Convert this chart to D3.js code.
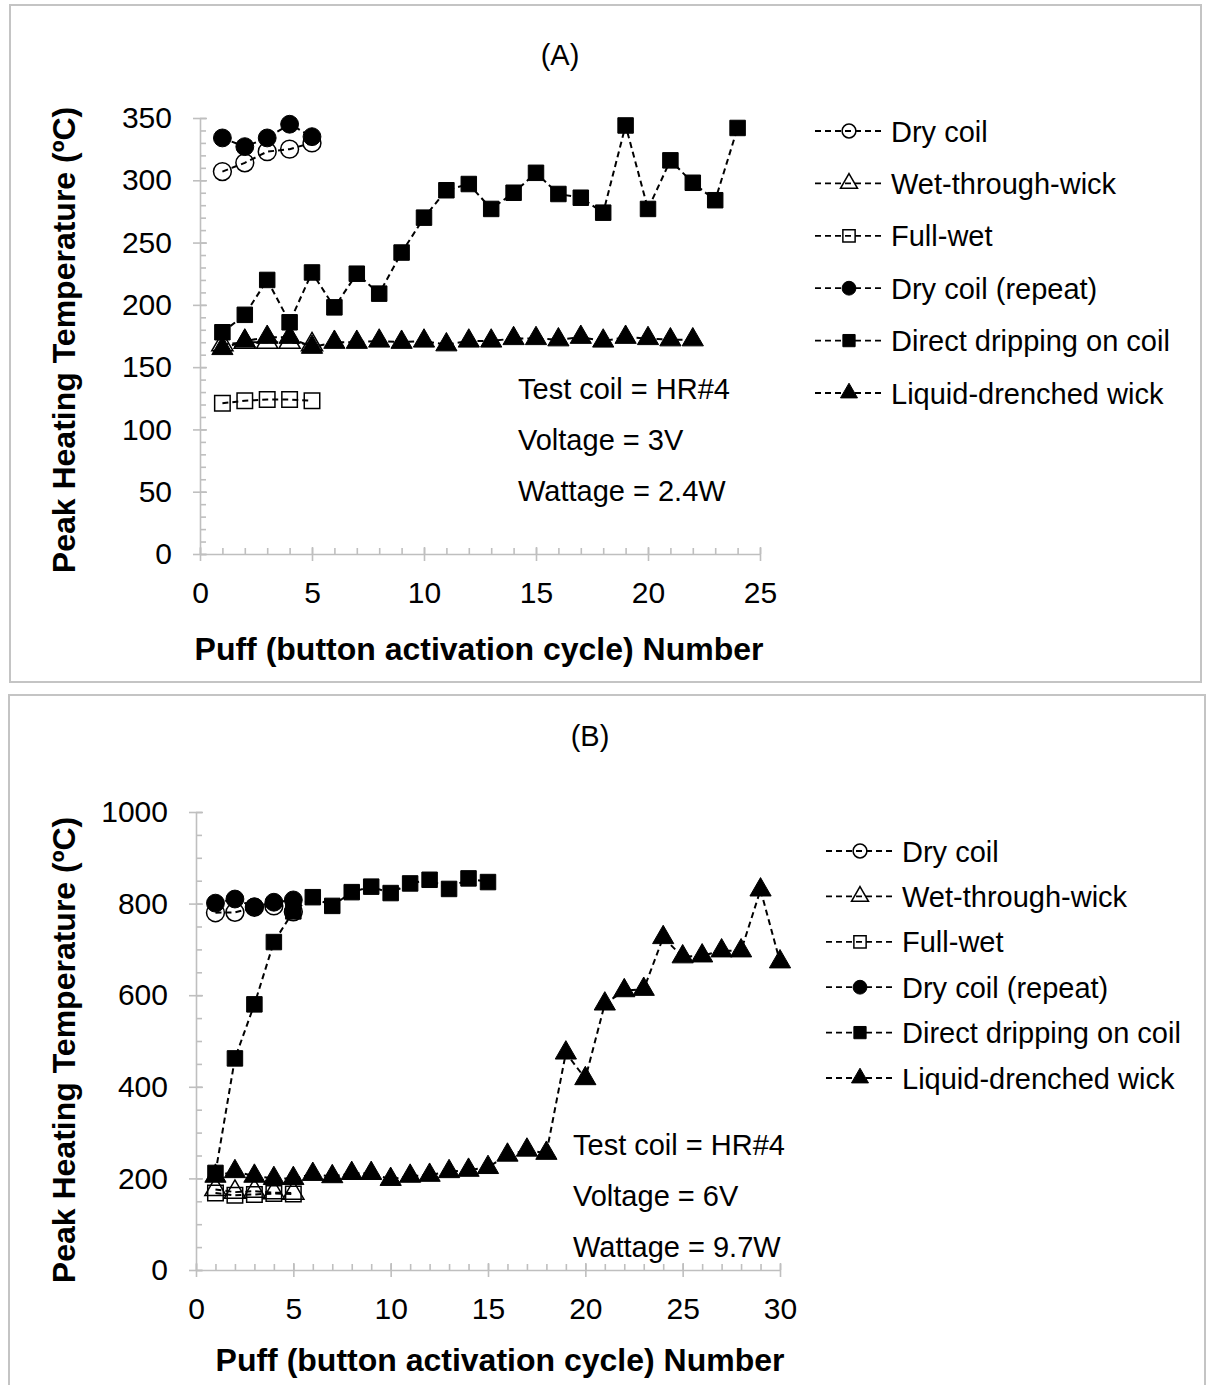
<!DOCTYPE html>
<html>
<head>
<meta charset="utf-8">
<style>
    body { margin: 0; background: #fff; }
    svg { display: block; }
    text { font-family: "Liberation Sans", Arial, sans-serif; fill: #000; }
</style>
</head>
<body>
    <svg id="chart" width="1208" height="1385"></svg>
<script src="https://cdnjs.cloudflare.com/ajax/libs/d3/7.8.5/d3.min.js"></script>
<script>
    // legend / series definitions (same for both panels)
    const seriesNames = ["Dry coil", "Wet-through-wick", "Full-wet", "Dry coil (repeat)",
        "Direct dripping on coil", "Liquid-drenched wick"];
    const markerTypes = ["circle", "triangle", "square", "circle", "square", "triangle"];
    const markerFilled = [false, false, false, true, true, true];

    // panel A : 3 V, 2.4 W  (values are for puff 1, 2, 3 ...)
    const dryCoilA = [307, 314, 323, 325, 330];
    const wetWickA = [168, 170, 170, 170, 168];
    const fullWetA = [121, 123, 124, 124, 123];
    const dryRepeatA = [334, 327, 334, 345, 335];
    const drippingA = [178, 192, 220, 186, 226, 198, 225, 209, 242, 270, 292, 297,
        277, 290, 306, 289, 286, 274, 344, 277, 316, 298, 284, 342];
    const drenchedA = [165, 171, 174, 174, 166, 170, 170, 171, 170, 171, 168, 171,
        171, 173, 173, 172, 174, 171, 174, 173, 172, 172];
    const xTicksA = [0, 5, 10, 15, 20, 25];
    const yTicksA = [0, 50, 100, 150, 200, 250, 300, 350];
    const notesA = ["Test coil = HR#4", "Voltage = 3V", "Wattage = 2.4W"];

    // panel B : 6 V, 9.7 W
    const dryCoilB = [780, 781, 792, 795, 782];
    const wetWickB = [176, 170, 172, 169, 168];
    const fullWetB = [168, 163, 165, 167, 166];
    const dryRepeatB = [801, 810, 793, 803, 808];
    const drippingB = [212, 462, 580, 716, 783, 814, 795, 825, 837, 823, 844, 852, 832, 855, 847];
    const drenchedB = [205, 215, 205, 200, 200, 209, 204, 211, 211, 198, 205, 207, 215,
        218, 224, 251, 262, 255, 474, 418, 581, 610, 613, 726, 684, 686, 697, 697, 830, 673];
    const xTicksB = [0, 5, 10, 15, 20, 25, 30];
    const yTicksB = [0, 200, 400, 600, 800, 1000];
    const notesB = ["Test coil = HR#4", "Voltage = 6V", "Wattage = 9.7W"];

    const axisColor = "#bfbfbf";
    const svg = d3.select("#chart");

    const panels = [
        {
            title: "(A)", titleX: 560, titleY: 65,
            box: [10, 5, 1191, 677],
            series: [dryCoilA, wetWickA, fullWetA, dryRepeatA, drippingA, drenchedA],
            xTicks: xTicksA, yTicks: yTicksA, yMinorStep: 10,
            left: 200, right: 760, top: 118, bottom: 554,
            notes: notesA, noteX: 518, noteY: 399, noteGap: 51,
            legX: 815, legY: 131, legGap: 52.4,
            yTitleX: 75, yTitleY: 340, xTitleX: 479, xTitleY: 660
        },
        {
            title: "(B)", titleX: 590, titleY: 746,
            box: [9, 695, 1196, 760],
            series: [dryCoilB, wetWickB, fullWetB, dryRepeatB, drippingB, drenchedB],
            xTicks: xTicksB, yTicks: yTicksB, yMinorStep: 50,
            left: 196, right: 780, top: 812, bottom: 1270,
            notes: notesB, noteX: 573, noteY: 1155, noteGap: 51,
            legX: 826, legY: 851, legGap: 45.4,
            yTitleX: 75, yTitleY: 1050, xTitleX: 500, xTitleY: 1371
        }
    ];

    function symbolFor(type, big) {
        if (type === "circle") return d3.symbol().type(d3.symbolCircle).size(big ? 250 : 150)();
        if (type === "square") return d3.symbol().type(d3.symbolSquare).size(big ? 240 : 150)();
        return d3.symbol().type(d3.symbolTriangle).size(big ? 195 : 125)();
    }

    function drawMarker(g, i, big) {
        const open = !markerFilled[i];
        g.append("path")
            .attr("d", symbolFor(markerTypes[i], big))
            .attr("fill", open ? "none" : "#000")
            .attr("stroke", "#000")
            .attr("stroke-width", open ? 1.5 : 1);
    }

    panels.forEach(p => {
        // frame
        svg.append("rect")
            .attr("x", p.box[0]).attr("y", p.box[1])
            .attr("width", p.box[2]).attr("height", p.box[3])
            .attr("fill", "none").attr("stroke", "#c4c4c4").attr("stroke-width", 2);

        svg.append("text")
            .attr("x", p.titleX).attr("y", p.titleY)
            .attr("text-anchor", "middle").attr("font-size", 29)
            .text(p.title);

        const xMax = p.xTicks[p.xTicks.length - 1];
        const yMax = p.yTicks[p.yTicks.length - 1];
        const x = d3.scaleLinear().domain([0, xMax]).range([p.left, p.right]);
        const y = d3.scaleLinear().domain([0, yMax]).range([p.bottom, p.top]);

        // minor ticks (inside)
        svg.append("g")
            .attr("transform", `translate(0,${p.bottom})`)
            .call(d3.axisBottom(x).tickValues(d3.range(0, xMax + 1, 1)).tickSize(-6).tickFormat(""))
            .call(g => g.select(".domain").remove());
        svg.append("g")
            .attr("transform", `translate(${p.left},0)`)
            .call(d3.axisLeft(y).tickValues(d3.range(0, yMax + 1, p.yMinorStep)).tickSize(-6).tickFormat(""))
            .call(g => g.select(".domain").remove());

        // major ticks crossing the axis
        svg.append("g")
            .attr("transform", `translate(0,${p.bottom})`)
            .call(d3.axisBottom(x).tickValues(p.xTicks).tickSize(-7).tickFormat(""))
            .call(g => g.select(".domain").remove());
        svg.append("g")
            .attr("transform", `translate(${p.left},0)`)
            .call(d3.axisLeft(y).tickValues(p.yTicks).tickSize(-7).tickFormat(""))
            .call(g => g.select(".domain").remove());

        const xAxis = svg.append("g")
            .attr("transform", `translate(0,${p.bottom})`)
            .call(d3.axisBottom(x).tickValues(p.xTicks).tickFormat(d3.format("d"))
                .tickSize(7).tickPadding(21).tickSizeOuter(0));
        const yAxis = svg.append("g")
            .attr("transform", `translate(${p.left},0)`)
            .call(d3.axisLeft(y).tickValues(p.yTicks).tickFormat(d3.format("d"))
                .tickSize(7).tickPadding(21).tickSizeOuter(0));

        svg.selectAll(".tick line, .domain")
            .attr("stroke", axisColor).attr("stroke-width", 1.6);
        [xAxis, yAxis].forEach(a => a.selectAll("text")
            .attr("font-size", 30).attr("font-family", "'Liberation Sans', Arial, sans-serif")
            .attr("fill", "#000"));

        // series: dashed line then markers
        p.series.forEach((vals, i) => {
            const pts = vals.map((v, k) => [k + 1, v]);
            svg.append("path")
                .datum(pts)
                .attr("d", d3.line().x(d => x(d[0])).y(d => y(d[1])))
                .attr("fill", "none").attr("stroke", "#000")
                .attr("stroke-width", 2).attr("stroke-dasharray", "6,4");
            const mg = svg.append("g");
            pts.forEach(d => {
                const g = mg.append("g").attr("transform", `translate(${x(d[0])},${y(d[1])})`);
                drawMarker(g, i, true);
            });
        });

        // notes
        p.notes.forEach((t, k) => {
            svg.append("text")
                .attr("x", p.noteX).attr("y", p.noteY + k * p.noteGap)
                .attr("font-size", 29).text(t);
        });

        // legend
        seriesNames.forEach((name, i) => {
            const cy = p.legY + i * p.legGap;
            svg.append("line")
                .attr("x1", p.legX).attr("x2", p.legX + 70)
                .attr("y1", cy).attr("y2", cy)
                .attr("stroke", "#000").attr("stroke-width", 1.8)
                .attr("stroke-dasharray", "6,4");
            const g = svg.append("g").attr("transform", `translate(${p.legX + 34},${cy})`);
            drawMarker(g, i, false);
            svg.append("text")
                .attr("x", p.legX + 76).attr("y", cy + 10.5)
                .attr("font-size", 29).text(name);
        });

        // axis titles
        svg.append("text")
            .attr("transform", `translate(${p.yTitleX},${p.yTitleY}) rotate(-90)`)
            .attr("text-anchor", "middle").attr("font-size", 32).attr("font-weight", "bold")
            .text("Peak Heating Temperature (ºC)");
        svg.append("text")
            .attr("x", p.xTitleX).attr("y", p.xTitleY)
            .attr("text-anchor", "middle").attr("font-size", 32).attr("font-weight", "bold")
            .text("Puff (button activation cycle) Number");
    });
</script>
</body>
</html>
